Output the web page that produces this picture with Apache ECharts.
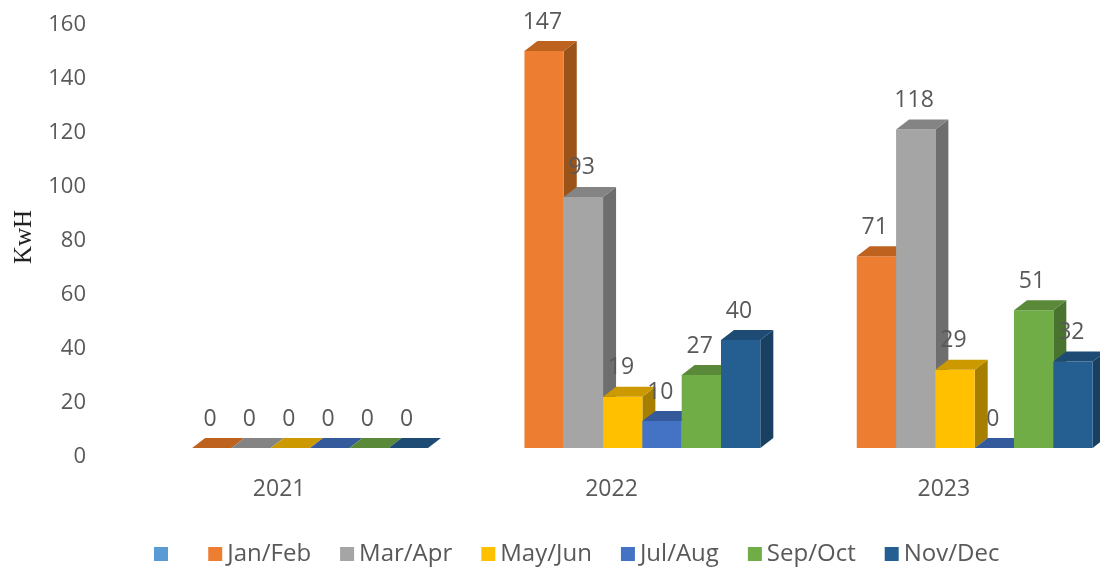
<!DOCTYPE html>
<html><head><meta charset="utf-8">
<style>html,body{margin:0;padding:0;background:#fff}#c{width:1100px;height:570px;filter:blur(0.6px)}</style>
<script src="https://cdn.jsdelivr.net/npm/echarts@6/dist/echarts.min.js"></script>
</head><body><div id="c"></div>
<script>
const years = ['2021','2022','2023'];
const blankName = '\u00a0';
const janFeb = [0,147,71];
const marApr = [0,93,118];
const mayJun = [0,19,29];
const julAug = [0,10,0];
const sepOct = [0,27,51];
const novDec = [0,40,32];
const names = ['Jan/Feb','Mar/Apr','May/Jun','Jul/Aug','Sep/Oct','Nov/Dec'];
const values = [janFeb,marApr,mayJun,julAug,sepOct,novDec];
const faces = [
  ['#ED7D31','#BE6220','#9A5319'],
  ['#A5A5A5','#848484','#6E6E6E'],
  ['#FFC000','#CC9A00','#A67E00'],
  ['#4472C4','#355A9C','#2D4C83'],
  ['#70AD47','#5A8A39','#4B7330'],
  ['#255E91','#1E4B74','#193F61']
];
const textColor = '#595959';
const font = '"Open Sans", sans-serif';
const barFrac = 0.1183, startFrac = -0.262, dx = 13, dy = 10;

function render(idx){
  return function(params, api){
    const p = api.coord([api.value(0), api.value(1)]);
    const base = api.coord([api.value(0), 0]);
    const band = api.size([1,0])[0];
    const w = band*barFrac;
    const x0 = p[0] + (startFrac + idx*barFrac)*band, x1 = x0 + w;
    const top = p[1], bot = base[1];
    const c = faces[idx];
    const children = [];
    if (bot - top > 0.5) {
      children.push({type:'polygon',shape:{points:[[x1,top],[x1+dx,top-dy],[x1+dx,bot-dy],[x1,bot]]},style:{fill:c[2]}});
      children.push({type:'rect',shape:{x:x0,y:top,width:w,height:bot-top},style:{fill:c[0]}});
    }
    children.push({type:'polygon',shape:{points:[[x0,top],[x0+dx,top-dy],[x1+dx,top-dy],[x1,top]]},style:{fill:c[1]}});
    children.push({type:'text',z2:100,style:{text:String(api.value(1)),x:x0+18,y:top-29,
      align:'center',verticalAlign:'middle',fill:textColor,font:'23px '+font}});
    return {type:'group',children};
  };
}
const series = [{name:blankName,type:'custom',data:[],itemStyle:{color:'#5B9BD5'},renderItem:()=>null}];
names.forEach((n,i)=>series.push({
  name:n,type:'custom',itemStyle:{color:faces[i][0]},
  encode:{x:0,y:1},
  data:values[i].map((v,k)=>[k,v]),
  renderItem:render(i),clip:false
}));
const chart = echarts.init(document.getElementById('c'),null,{renderer:'canvas'});
chart.setOption({
  animation:false,
  backgroundColor:'#fff',
  grid:{left:113,right:-10,top:16,bottom:122,outerBoundsMode:'none'},
  xAxis:{type:'category',data:years,axisLine:{show:false},axisTick:{show:false},splitLine:{show:false},
    axisLabel:{color:textColor,fontFamily:font,fontSize:23,margin:30}},
  yAxis:{type:'value',min:0,max:160,interval:20,axisLine:{show:false},axisTick:{show:false},splitLine:{show:false},
    name:'KwH',nameLocation:'middle',nameGap:75,
    nameTextStyle:{fontFamily:'"Liberation Serif", serif',fontSize:25,color:'#222',padding:[0,10,0,0]},
    axisLabel:{color:textColor,fontFamily:font,fontSize:22,margin:27,verticalAlign:'top',lineHeight:17}},
  legend:{left:149,top:537,itemWidth:14,itemHeight:14,itemGap:29,icon:'rect',selectedMode:false,
    textStyle:{color:textColor,fontFamily:font,fontSize:24},
    data:[blankName].concat(names)},
  series
});
</script></body></html>
